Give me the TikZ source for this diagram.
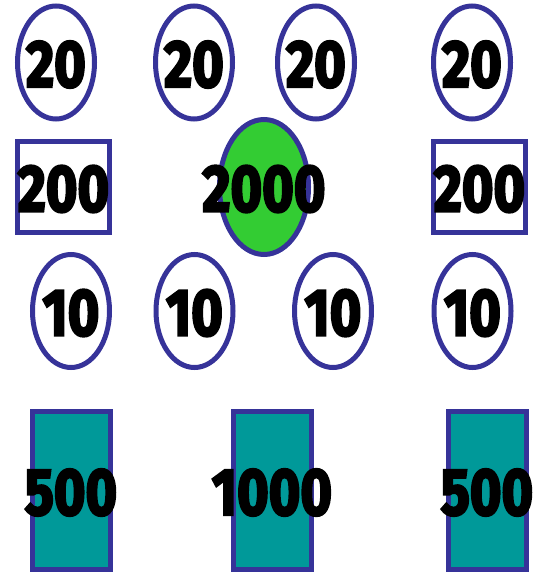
\documentclass[tikz,border=0pt]{standalone}
\usepackage{fontspec}
\newfontfamily\chipfont{Fira Sans}[UprightFont={* Bold},FakeBold=4]
\usetikzlibrary{shapes.geometric}
\definecolor{rim}{RGB}{54,51,153}
\definecolor{chipgreen}{RGB}{51,204,51}
\definecolor{noteteal}{RGB}{0,153,153}
\newcommand{\val}[1]{\scalebox{0.82}[1]{#1}}

\begin{document}
\begin{tikzpicture}[x=1pt,y=-1pt,
  coin/.style={ellipse,draw=rim,line width=5pt,inner sep=0pt,minimum width=77pt,minimum height=113pt},
  bigcoin/.style={ellipse,draw=rim,fill=chipgreen,line width=5pt,inner sep=0pt,minimum width=89pt,minimum height=135pt},
  card/.style={rectangle,draw=rim,line width=5pt,inner sep=0pt,minimum width=92pt,minimum height=90pt},
  note/.style={rectangle,draw=rim,fill=noteteal,line width=5pt,inner sep=0pt,minimum width=78pt,minimum height=158pt},
  num/.style={inner sep=0pt,font=\chipfont\fontsize{66}{66}\selectfont,yshift=-2pt}]

\useasboundingbox (0,0) rectangle (545,572);

% first row
\node[coin] (a1) at (56,62.5) {};
\node[coin] (a2) at (194,62.5) {};
\node[coin] (a3) at (316,62.5) {};
\node[coin] (a4) at (472,62.5) {};

\node[num] (ta1) at (a1.center) {\val{20}};
\node[num] (ta2) at (a2.center) {\val{20}};
\node[num] (ta3) at (a3.center) {\val{20}};
\node[num] (ta4) at (a4.center) {\val{20}};

% second row
\node[card] (b1) at (63.5,187) {};
\node[bigcoin] (b2) at (264,187) {};
\node[card] (b3) at (479.5,187) {};

\node[num] (tb1) at (b1.center) {\val{200}};
\node[num] (tb2) at (b2.center) {\val{2000}};
\node[num] (tb3) at (b3.center) {\val{200}};

% third row
\node[coin] (c1) at (71,311) {};
\node[coin] (c2) at (194.5,311) {};
\node[coin] (c3) at (333,311) {};
\node[coin] (c4) at (472.5,311) {};

\node[num] (tc1) at (c1.center) {\val{10}};
\node[num] (tc2) at (c2.center) {\val{10}};
\node[num] (tc3) at (c3.center) {\val{10}};
\node[num] (tc4) at (c4.center) {\val{10}};

% fourth row
\node[note] (d1) at (71,490.5) {};
\node[note] (d2) at (272,490.5) {};
\node[note] (d3) at (487,490.5) {};

\node[num] (td1) at (d1.center) {\val{500}};
\node[num] (td2) at (d2.center) {\val{1000}};
\node[num] (td3) at (d3.center) {\val{500}};

\end{tikzpicture}
\end{document}
